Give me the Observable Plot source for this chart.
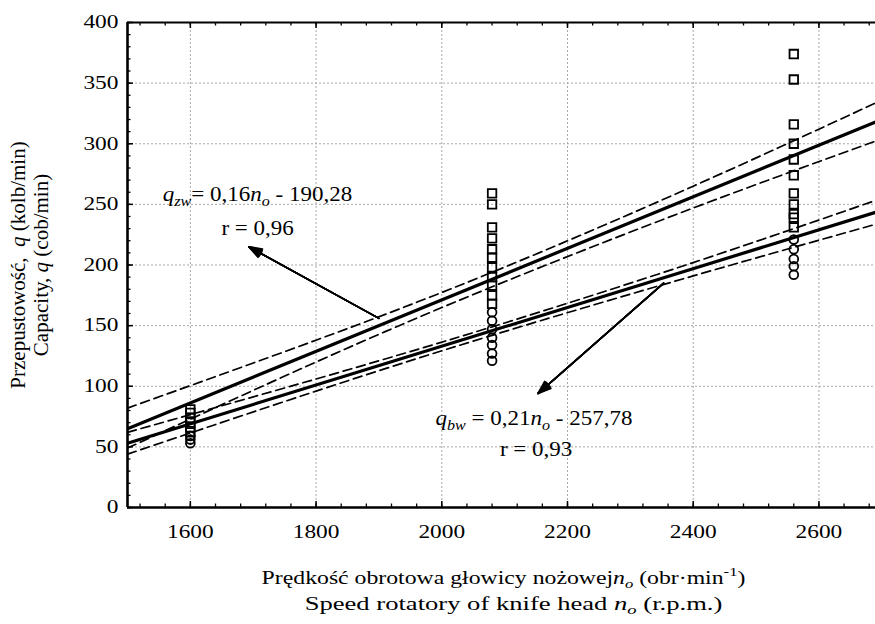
<!DOCTYPE html>
<html><head><meta charset="utf-8">
<script src="https://cdn.jsdelivr.net/npm/d3@7"></script>
<script src="https://cdn.jsdelivr.net/npm/@observablehq/plot@0.6"></script>
<style>html,body{margin:0;padding:0;background:#fff;overflow:hidden}</style>
</head><body><div id="chart"></div>
<script>
// ---- data ----
const speeds = [1600, 2080, 2560];
const zwValues = [
  [81, 78, 74, 70, 66, 62],
  [259, 250, 231, 222, 213, 206, 198, 190, 183, 175, 168],
  [374, 353, 316, 300, 287, 274, 259, 250, 242, 239, 231]
];
const bwValues = [
  [59, 56, 53],
  [161, 154, 147, 140, 134, 127, 121],
  [221, 213, 205, 199, 192]
];
const fitX = [1500, 2700];
const fitZw = [65, 320];
const fitBw = [53, 245];
const bandX = [1500, 1800, 2080, 2400, 2700];
const bandZwHi = [82, 138, 194, 265, 336];
const bandZwLo = [49, 120, 182, 247, 304];
const bandBwHi = [62, 106, 149, 202, 255];
const bandBwLo = [44, 96, 142, 191, 235];
const xMajor = [1600, 1800, 2000, 2200, 2400, 2600];
const xMinor = d3.range(1520, 2690, 40);
const yMajor = [0, 50, 100, 150, 200, 250, 300, 350, 400];
const yGrid = [50, 100, 150, 200, 250, 300, 350];
const yMinor = d3.range(0, 401, 10);
const arrows = [
  {x1: 1900, y1: 156, x2: 1693, y2: 215},
  {x1: 2353, y1: 185, x2: 2153, y2: 94}
];
const eqSegs = [
  [["q","i"],["zw","isub"],["= 0,16"],["n","i"],["o","isub"],[" - 190,28"]],
  [["q","i"],["bw","isub"],[" = 0,21"],["n","i"],["o","isub"],[" - 257,78"]]
];
const eqPos = [{x: 1556, y: 258}, {x: 1990, y: 73}];
const rTexts = ["r = 0,96", "r = 0,93"];
const rPos = [{x: 1707, y: 230}, {x: 2150, y: 48}];
const xTitle1 = [["Prędkość obrotowa głowicy nożowej"],["n","i"],["o","isub"],[" (obr·min"],["-1","sup"],[")"]];
const xTitle2 = [["Speed rotatory of knife head "],["n","i"],["o","isub"],[" (r.p.m.)"]];
const yTitle1 = [["Przepustowość,  "],["q","i"],[" (kolb/min)"]];
const yTitle2 = [["Capacity, "],["q","i"],[" (cob/min)"]];

// ---- helpers ----
const plain = segs => segs.map(s => s[0]).join("");
const pts = vals => speeds.flatMap((s, i) => vals[i].map(v => ({x: s, y: v})));
const series = (xs, ys) => xs.map((x, i) => ({x, y: ys[i]}));
const W = 875, H = 624, mL = 127, mR = 0, mT = 22, mB = 117;
const fw = W - mL - mR, fh = H - mT - mB;
const serif = "'Liberation Serif','Times New Roman',serif";
const dashed = {x: "x", y: "y", curve: "natural", stroke: "black", strokeWidth: 1.7, strokeDasharray: "9,5", clip: true};

const arrowMarks = [8, 16, 24, 32, 40].map(a =>
  Plot.arrow(arrows, {x1: "x1", y1: "y1", x2: "x2", y2: "y2", headLength: 13, headAngle: a, strokeWidth: 1.6, stroke: "black"}));

const plot = Plot.plot({
  width: W, height: H, marginLeft: mL, marginRight: mR, marginTop: mT, marginBottom: mB,
  style: {fontFamily: serif, fontSize: "18px", background: "white", color: "black"},
  x: {domain: [1500, 2690]},
  y: {domain: [0, 400]},
  marks: [
    Plot.gridX(xMajor, {stroke: "#a8a8a8", strokeOpacity: 1, strokeDasharray: "2,2"}),
    Plot.gridY(yGrid, {stroke: "#a8a8a8", strokeOpacity: 1, strokeDasharray: "2,2"}),
    Plot.line(series(bandX, bandZwHi), dashed),
    Plot.line(series(bandX, bandZwLo), dashed),
    Plot.line(series(bandX, bandBwHi), dashed),
    Plot.line(series(bandX, bandBwLo), dashed),
    Plot.line(series(fitX, fitZw), {x: "x", y: "y", strokeWidth: 3.2, stroke: "black", clip: true}),
    Plot.line(series(fitX, fitBw), {x: "x", y: "y", strokeWidth: 3.2, stroke: "black", clip: true}),
    Plot.dot(pts(zwValues), {x: "x", y: "y", symbol: "square", r: 4.8, stroke: "black", strokeWidth: 1.8, fill: "none"}),
    Plot.dot(pts(bwValues), {x: "x", y: "y", symbol: "circle", r: 4.4, stroke: "black", strokeWidth: 1.8, fill: "none"}),
    ...arrowMarks,
    Plot.ruleX([1500], {strokeWidth: 2.6}),
    Plot.ruleY([0], {strokeWidth: 2.6}),
    Plot.ruleY([400], {strokeWidth: 2.2}),
    Plot.tickY(yMinor, {y: d => d, insetRight: fw - 3.5, strokeWidth: 1.3}),
    Plot.tickY(yMajor, {y: d => d, insetRight: fw - 6, strokeWidth: 1.5}),
    Plot.tickX(xMinor, {x: d => d, insetTop: fh - 3.5, strokeWidth: 1.3}),
    Plot.tickX(xMinor, {x: d => d, insetBottom: fh - 3.5, strokeWidth: 1.3}),
    Plot.tickX(xMajor, {x: d => d, insetTop: fh - 6, strokeWidth: 1.5}),
    Plot.tickX(xMajor, {x: d => d, insetBottom: fh - 6, strokeWidth: 1.5}),
    Plot.axisY(yMajor, {tickSize: 0, tickPadding: 9, label: null, fontSize: 18, tickFormat: d => String(d)}),
    Plot.axisX(xMajor, {tickSize: 0, tickPadding: 18, label: null, fontSize: 18, tickFormat: d => String(d)}),
    Plot.text(eqPos, {x: "x", y: "y", text: (d, i) => plain(eqSegs[i]), textAnchor: "start", fontSize: 20}),
    Plot.text(rPos, {x: "x", y: "y", text: (d, i) => rTexts[i], textAnchor: "middle", fontSize: 20}),
    Plot.text([plain(xTitle1)], {text: d => d, frameAnchor: "bottom", textAnchor: "middle", dy: 76, dx: 2, fontSize: 19}),
    Plot.text([plain(xTitle2)], {text: d => d, frameAnchor: "bottom", textAnchor: "middle", dy: 102, dx: 12, fontSize: 19}),
    Plot.text([plain(yTitle1)], {text: d => d, frameAnchor: "left", textAnchor: "middle", rotate: -90, dx: -109, fontSize: 21}),
    Plot.text([plain(yTitle2)], {text: d => d, frameAnchor: "left", textAnchor: "middle", rotate: -90, dx: -86, fontSize: 21})
  ]
});
document.getElementById("chart").appendChild(plot);
const svg = plot.tagName.toLowerCase() === "svg" ? plot : plot.querySelector("svg");

// rich text (italic, subscripts, superscripts)
function richify(segs) {
  const p = plain(segs);
  svg.querySelectorAll("text").forEach(t => {
    if (t.textContent !== p) return;
    const fs = parseFloat(getComputedStyle(t).fontSize);
    while (t.firstChild) t.removeChild(t.firstChild);
    let shift = 0;
    for (const [s, st = ""] of segs) {
      const ts = document.createElementNS("http://www.w3.org/2000/svg", "tspan");
      ts.textContent = s;
      let target = 0;
      if (st.includes("i")) ts.setAttribute("font-style", "italic");
      if (st.includes("sub")) { target = fs * 0.25; ts.setAttribute("font-size", fs * 0.7); }
      if (st.includes("sup")) { target = -fs * 0.38; ts.setAttribute("font-size", fs * 0.7); }
      if (target !== shift) { ts.setAttribute("dy", target - shift); shift = target; }
      t.appendChild(ts);
    }
  });
}
const stretchFor = new Map();
eqSegs.forEach(s => stretchFor.set(plain(s), 1.15));
rTexts.forEach(s => stretchFor.set(s, 1.15));
stretchFor.set(plain(xTitle1), 1.25);
stretchFor.set(plain(xTitle2), 1.4);
stretchFor.set(plain(yTitle1), 1.0);
stretchFor.set(plain(yTitle2), 1.0);
[...eqSegs, xTitle1, xTitle2, yTitle1, yTitle2].forEach(richify);

// the reference glyphs are drawn wider than tall: stretch text horizontally
function stretchText(defaultK) {
  const sr = svg.getBoundingClientRect();
  svg.querySelectorAll("text").forEach(t => {
    const k = stretchFor.has(t.textContent) ? stretchFor.get(t.textContent) : defaultK;
    if (k === 1) return;
    const r = t.getBoundingClientRect();
    if (!r.width) return;
    const anchor = getComputedStyle(t).textAnchor;
    let ax = anchor === "end" ? r.right : anchor === "middle" ? (r.left + r.right) / 2 : r.left;
    ax -= sr.left;
    const ay = (r.top + r.bottom) / 2 - sr.top;
    const P = t.parentNode.getCTM();
    const S = svg.createSVGMatrix().translate(ax, ay).scaleNonUniform(k, 1).translate(-ax, -ay);
    const tl = t.transform.baseVal;
    const own = tl.numberOfItems ? tl.consolidate().matrix : svg.createSVGMatrix();
    const X = P.inverse().multiply(S).multiply(P).multiply(own);
    t.setAttribute("transform", `matrix(${X.a} ${X.b} ${X.c} ${X.d} ${X.e} ${X.f})`);
  });
}
stretchText(1.3);
</script>
</body></html>
